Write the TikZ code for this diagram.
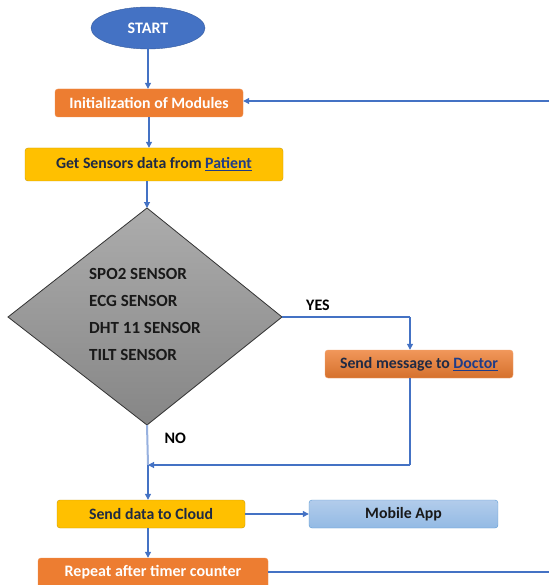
\documentclass[tikz,border=0pt]{standalone}
\usepackage{fontspec}
\setmainfont{Carlito}
\usetikzlibrary{shapes.geometric,arrows.meta}
\definecolor{lnblue}{HTML}{4472C4}
\definecolor{orng}{HTML}{ED7D31}
\definecolor{yel}{HTML}{FFC000}
\definecolor{navy}{HTML}{1F2A44}
\definecolor{lnk}{HTML}{1F3C88}
\definecolor{apptop}{HTML}{B2CCEB}
\definecolor{appbot}{HTML}{93BAE4}
\definecolor{appedge}{HTML}{5B9BD5}
\tikzset{
  conn/.style={draw=lnblue, line width=1.1pt, -{Triangle[width=6pt,length=6pt]}},
  plain/.style={draw=lnblue, line width=1.1pt},
  box/.style={rounded corners=3pt, inner sep=0pt, font=\fontsize{15.8}{18}\selectfont\bfseries},
  obox/.style={box, fill=orng, draw=orng!85!white, text=white},
  ybox/.style={box, fill=yel, draw=yel!80!black, text=navy},
  lbl/.style={font=\fontsize{16}{18}\selectfont\bfseries, text=black}
}
\begin{document}
\begin{tikzpicture}[x=1pt,y=-1pt]
\clip (0,0) rectangle (549,585);
\useasboundingbox (0,0) rectangle (549,585);
\fill[white] (0,0) rectangle (549,585);

\node[ellipse, fill=lnblue, draw=lnblue!80!black, minimum width=114pt, minimum height=42pt, inner sep=0pt, text=white, font=\fontsize{16}{18}\selectfont\bfseries] (start) at (148,28) {START};

\node[obox, minimum width=188pt, minimum height=28pt] (init) at (149,103) {Initialization of Modules};

\node[ybox, minimum width=258pt, minimum height=33pt] (get) at (154,164.5) {Get Sensors data from \textcolor{lnk}{\underline{Patient}}};

\coordinate (dt) at (147,208);
\coordinate (dr) at (282,317);
\coordinate (db) at (147,425);
\coordinate (dl) at (8,317);
\shade[top color=gray!65, bottom color=gray!105!black!100, draw=black!80, line width=0.8pt, shading angle=0]
  (dt) -- (dr) -- (db) -- (dl) -- cycle;
\node[inner sep=0pt, anchor=west, align=left, font=\fontsize{17}{27}\selectfont\bfseries, text=black!90] (sens) at (89,314.5)
  {SPO2 SENSOR\\ECG SENSOR\\DHT 11 SENSOR\\TILT SENSOR};

\node[box, top color=orng!80!white, bottom color=orng!90!black, draw=orng!70!white, text=navy, minimum width=188pt, minimum height=28pt] (doc) at (419,364) {Send message to \textcolor{lnk}{\underline{Doctor}}};

\node[ybox, minimum width=188pt, minimum height=28pt] (cloud) at (151,514) {Send data to Cloud};

\node[box, top color=apptop, bottom color=appbot, draw=appedge, text=black!90, minimum width=189pt, minimum height=28pt] (app) at (403.5,514) {Mobile App};

\node[obox, minimum width=230pt, minimum height=36pt] (rep) at (153,576) {};
\node[font=\fontsize{16}{18}\selectfont\bfseries, text=white, inner sep=0pt] (reptxt) at (153,572) {Repeat after timer counter};

\coordinate (fbin) at (549,101);
\coordinate (fbout) at (549,572);
\coordinate (yescorner) at (410,317);
\coordinate (doccorner) at (410,465);
\coordinate (merge) at (148,465);

\draw[conn] (start.south) -- (start.south |- init.north);
\draw[conn] (fbin) -- (init.east |- fbin);
\draw[conn] (init.south) -- (init.south |- get.north);
\draw[conn] (get.south -| dt) -- (dt);
\draw[plain] (dr) -- (yescorner);
\draw[conn] (yescorner) -- (yescorner |- doc.north);
\node[lbl, anchor=south] (yes) at (318,314) {YES};
\draw[plain] (doc.south -| yescorner) -- (doccorner);
\draw[conn] (doccorner) -- (merge);
\draw[draw=lnblue!55, line width=2pt] (db) -- (merge);
\draw[conn] (merge) -- (merge |- cloud.north);
\node[lbl, anchor=west] (no) at (161,438) {NO};
\draw[conn] (cloud.east) -- (app.west);
\draw[conn] (cloud.south -| merge) -- (merge |- rep.north);
\draw[plain] (rep.east |- fbout) -- (fbout);
\end{tikzpicture}
\end{document}
